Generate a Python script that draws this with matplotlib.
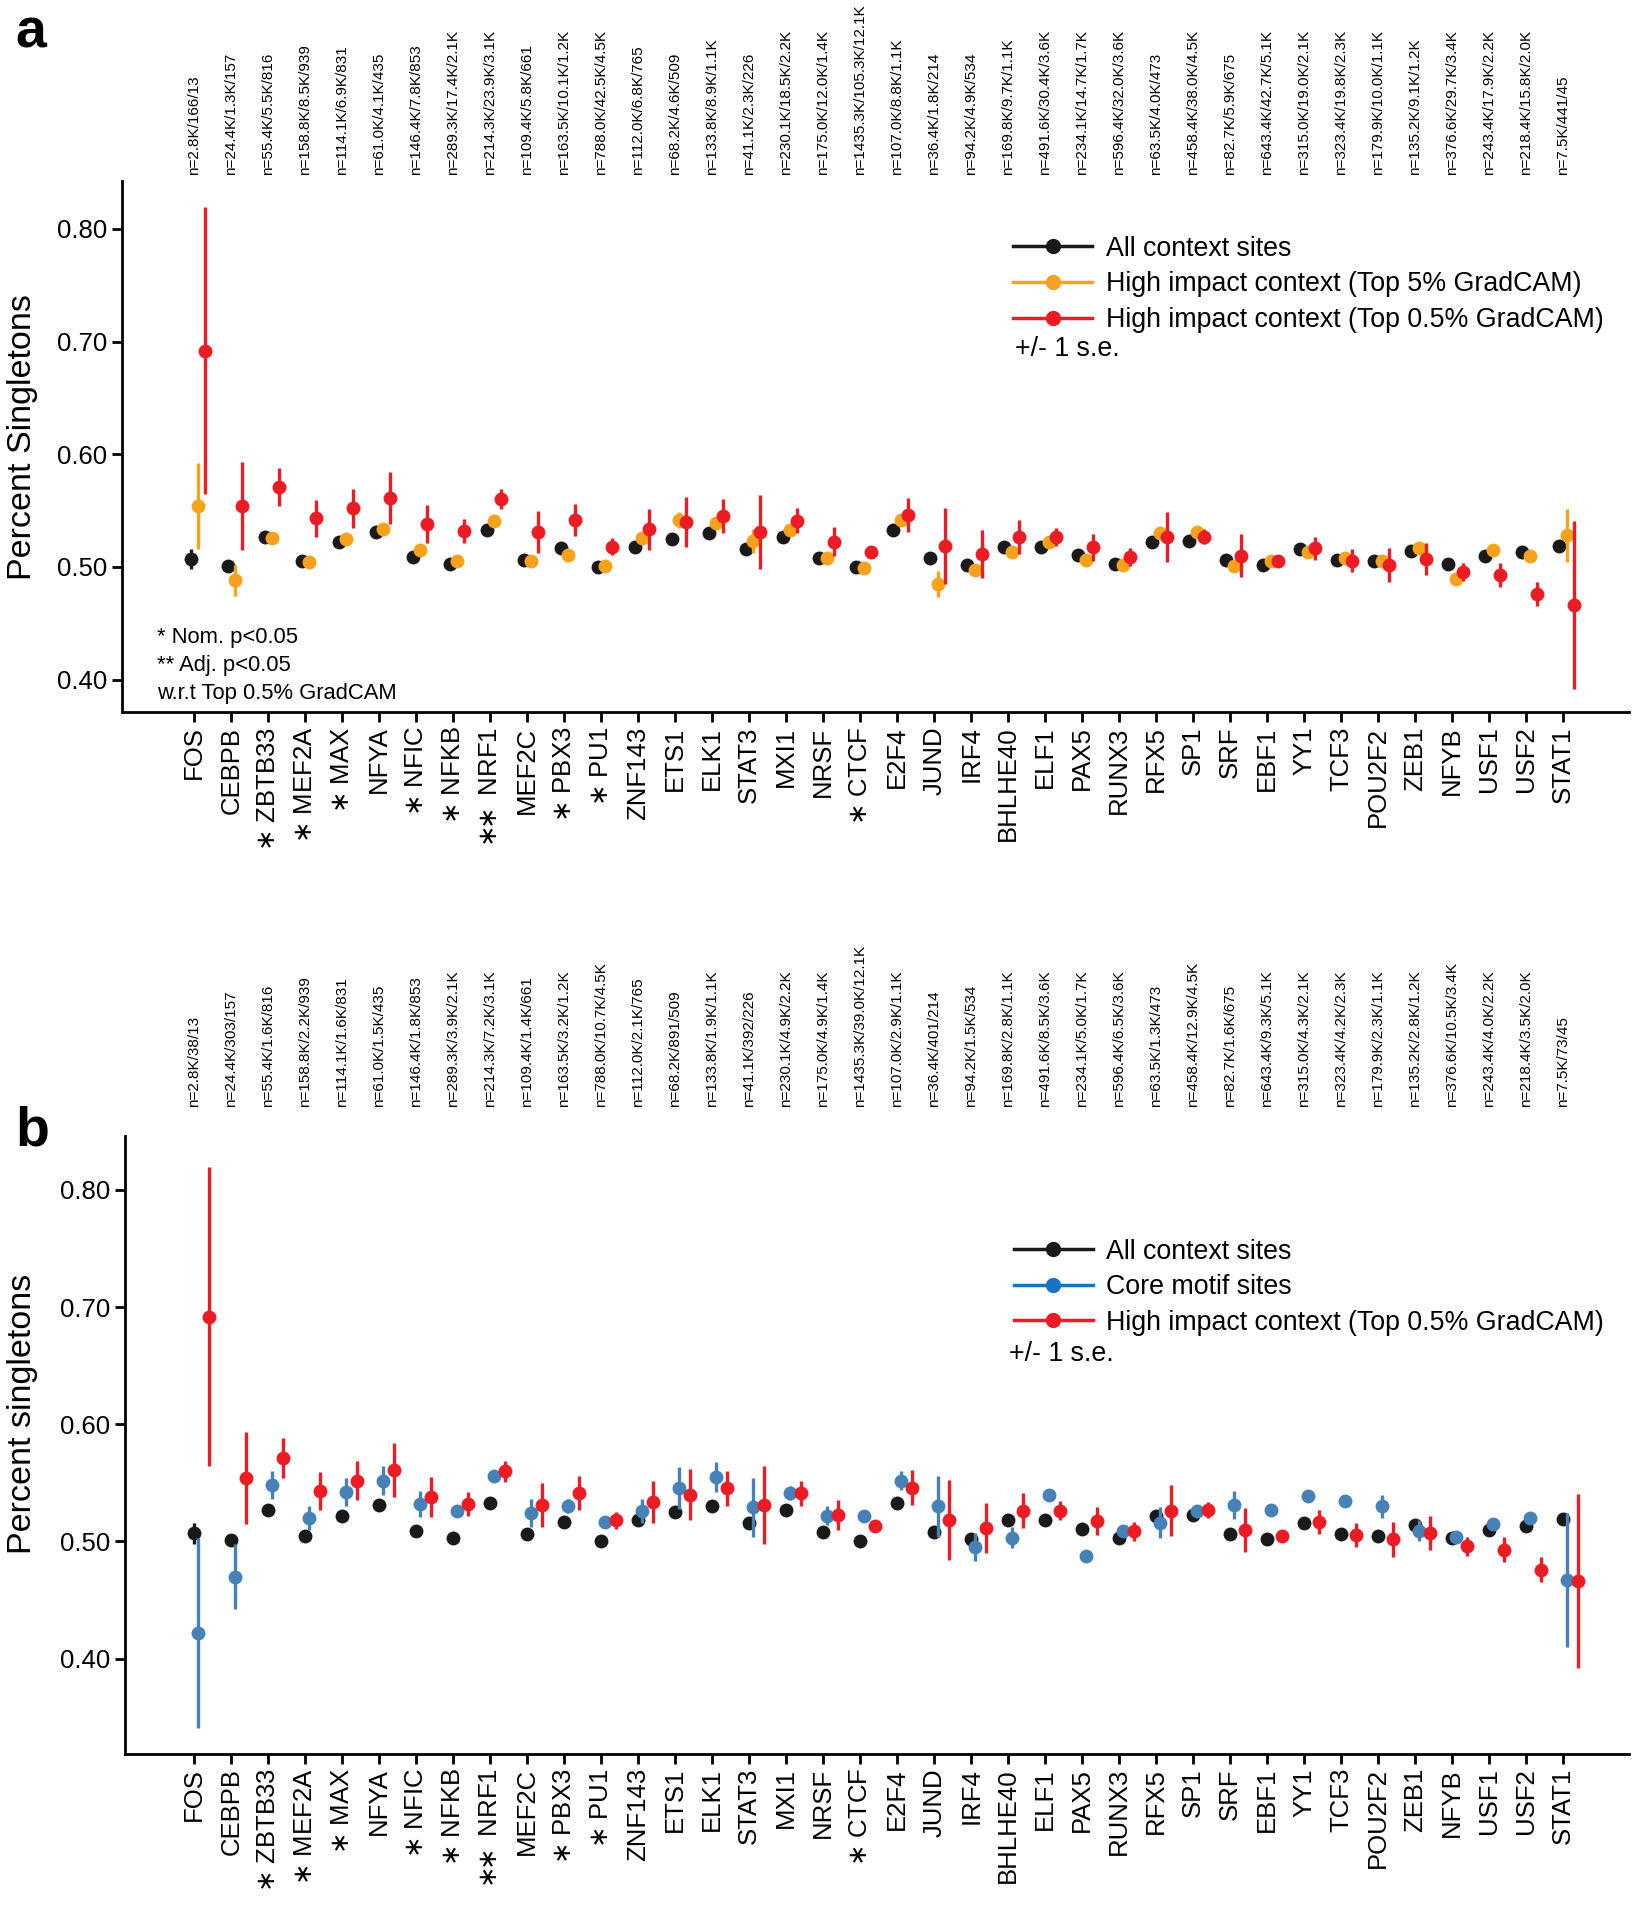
import matplotlib
matplotlib.use("Agg")
import matplotlib.pyplot as plt
from matplotlib.lines import Line2D
from matplotlib.transforms import blended_transform_factory
import numpy as np

plt.rcParams['font.family'] = ['Liberation Sans', 'DejaVu Sans']

factors = ["FOS", "CEBPB", "ZBTB33", "MEF2A", "MAX", "NFYA", "NFIC", "NFKB", "NRF1",
           "MEF2C", "PBX3", "PU1", "ZNF143", "ETS1", "ELK1", "STAT3", "MXI1", "NRSF",
           "CTCF", "E2F4", "JUND", "IRF4", "BHLHE40", "ELF1", "PAX5", "RUNX3", "RFX5",
           "SP1", "SRF", "EBF1", "YY1", "TCF3", "POU2F2", "ZEB1", "NFYB", "USF1", "USF2", "STAT1"]
stars = ["", "", "*", "*", "*", "", "*", "*", "**", "", "*", "*", "", "", "", "", "", "",
         "*", "", "", "", "", "", "", "", "", "", "", "", "", "", "", "", "", "", "", ""]

n_labels_a = ["2.8K/166/13", "24.4K/1.3K/157", "55.4K/5.5K/816", "158.8K/8.5K/939",
              "114.1K/6.9K/831", "61.0K/4.1K/435", "146.4K/7.8K/853", "289.3K/17.4K/2.1K",
              "214.3K/23.9K/3.1K", "109.4K/5.8K/661", "163.5K/10.1K/1.2K", "788.0K/42.5K/4.5K",
              "112.0K/6.8K/765", "68.2K/4.6K/509", "133.8K/8.9K/1.1K", "41.1K/2.3K/226",
              "230.1K/18.5K/2.2K", "175.0K/12.0K/1.4K", "1435.3K/105.3K/12.1K", "107.0K/8.8K/1.1K",
              "36.4K/1.8K/214", "94.2K/4.9K/534", "169.8K/9.7K/1.1K", "491.6K/30.4K/3.6K",
              "234.1K/14.7K/1.7K", "596.4K/32.0K/3.6K", "63.5K/4.0K/473", "458.4K/38.0K/4.5K",
              "82.7K/5.9K/675", "643.4K/42.7K/5.1K", "315.0K/19.0K/2.1K", "323.4K/19.8K/2.3K",
              "179.9K/10.0K/1.1K", "135.2K/9.1K/1.2K", "376.6K/29.7K/3.4K", "243.4K/17.9K/2.2K",
              "218.4K/15.8K/2.0K", "7.5K/441/45"]
n_labels_b = ["2.8K/38/13", "24.4K/303/157", "55.4K/1.6K/816", "158.8K/2.2K/939",
              "114.1K/1.6K/831", "61.0K/1.5K/435", "146.4K/1.8K/853", "289.3K/3.9K/2.1K",
              "214.3K/7.2K/3.1K", "109.4K/1.4K/661", "163.5K/3.2K/1.2K", "788.0K/10.7K/4.5K",
              "112.0K/2.1K/765", "68.2K/891/509", "133.8K/1.9K/1.1K", "41.1K/392/226",
              "230.1K/4.9K/2.2K", "175.0K/4.9K/1.4K", "1435.3K/39.0K/12.1K", "107.0K/2.9K/1.1K",
              "36.4K/401/214", "94.2K/1.5K/534", "169.8K/2.8K/1.1K", "491.6K/8.5K/3.6K",
              "234.1K/5.0K/1.7K", "596.4K/6.5K/3.6K", "63.5K/1.3K/473", "458.4K/12.9K/4.5K",
              "82.7K/1.6K/675", "643.4K/9.3K/5.1K", "315.0K/4.3K/2.1K", "323.4K/4.2K/2.3K",
              "179.9K/2.3K/1.1K", "135.2K/2.8K/1.2K", "376.6K/10.5K/3.4K", "243.4K/4.0K/2.2K",
              "218.4K/3.5K/2.0K", "7.5K/73/45"]

all_mean = [0.507, 0.501, 0.527, 0.505, 0.522, 0.531, 0.509, 0.503, 0.533, 0.506, 0.517, 0.500,
            0.518, 0.525, 0.530, 0.516, 0.527, 0.508, 0.500, 0.533, 0.508, 0.502, 0.518, 0.518,
            0.511, 0.503, 0.522, 0.523, 0.506, 0.502, 0.516, 0.506, 0.505, 0.514, 0.503, 0.510,
            0.513, 0.519]
all_se = [0.009, 0.003, 0.002, 0.002, 0.002, 0.002, 0.002, 0.002, 0.002, 0.002, 0.002, 0.001,
          0.002, 0.002, 0.002, 0.003, 0.002, 0.002, 0.001, 0.002, 0.003, 0.002, 0.002, 0.001,
          0.002, 0.001, 0.002, 0.001, 0.002, 0.001, 0.002, 0.002, 0.002, 0.002, 0.002, 0.002,
          0.002, 0.004]

top5_mean = [0.554, 0.488, 0.5255, 0.504, 0.525, 0.534, 0.515, 0.505, 0.541, 0.5055, 0.511, 0.501,
             0.5255, 0.542, 0.539, 0.523, 0.533, 0.508, 0.499, 0.542, 0.485, 0.497, 0.513, 0.5225,
             0.506, 0.502, 0.5305, 0.531, 0.501, 0.505, 0.5136, 0.508, 0.505, 0.517, 0.489, 0.515,
             0.510, 0.528]
top5_se = [0.038, 0.0135, 0.003, 0.003, 0.004, 0.005, 0.004, 0.003, 0.003, 0.004, 0.004, 0.002,
           0.005, 0.007, 0.004, 0.011, 0.003, 0.003, 0.001, 0.004, 0.0117, 0.005, 0.004, 0.002,
           0.003, 0.002, 0.005, 0.002, 0.004, 0.002, 0.003, 0.003, 0.003, 0.004, 0.003, 0.003,
           0.003, 0.0237]

top05_mean = [0.692, 0.554, 0.571, 0.543, 0.552, 0.561, 0.538, 0.532, 0.560, 0.531, 0.5417, 0.518,
              0.5334, 0.540, 0.5453, 0.531, 0.541, 0.5225, 0.5136, 0.546, 0.5186, 0.5113, 0.5264,
              0.5264, 0.5175, 0.5086, 0.5264, 0.527, 0.5098, 0.505, 0.5166, 0.5056, 0.5018, 0.507,
              0.4959, 0.4929, 0.476, 0.4663]
top05_se = [0.1275, 0.039, 0.017, 0.016, 0.017, 0.023, 0.017, 0.0104, 0.009, 0.019, 0.0145, 0.0074,
            0.018, 0.022, 0.015, 0.033, 0.011, 0.013, 0.003, 0.015, 0.034, 0.0215, 0.015, 0.008,
            0.012, 0.008, 0.022, 0.007, 0.019, 0.004, 0.0104, 0.010, 0.015, 0.0145, 0.008, 0.0107,
            0.011, 0.0745]

core_mean = [0.422, 0.470, 0.548, 0.520, 0.542, 0.552, 0.532, 0.526, 0.556, 0.524, 0.530, 0.517,
             0.526, 0.5455, 0.555, 0.529, 0.541, 0.522, 0.522, 0.552, 0.530, 0.495, 0.503, 0.540,
             0.488, 0.509, 0.516, 0.526, 0.531, 0.527, 0.539, 0.5345, 0.530, 0.509, 0.504, 0.515,
             0.520, 0.467]
core_se = [0.081, 0.028, 0.012, 0.010, 0.012, 0.012, 0.011, 0.005, 0.004, 0.012, 0.006, 0.003,
           0.010, 0.018, 0.013, 0.025, 0.006, 0.008, 0.003, 0.008, 0.026, 0.012, 0.009, 0.004,
           0.004, 0.004, 0.013, 0.003, 0.012, 0.003, 0.005, 0.005, 0.010, 0.009, 0.003, 0.005,
           0.005, 0.057]

C_BLACK = "#1a1a1a"
C_ORANGE = "#F7A21C"
C_RED = "#EC1C24"
C_BLUE = "#4682B8"
C_BLUE_LEG = "#1874C0"

FS_TICK = 18.5
FS_LEG = 19.3
MS = 10
ELW = 2.4

x = np.arange(len(factors))
xt_labels = [("$" + r"\!\!".join([r"\ast"] * len(s)) + "$ " + f) if s else f
             for s, f in zip(stars, factors)]

fig = plt.figure(figsize=(16.47, 19.2), dpi=100)
ax_a = fig.add_axes([0.0741, 0.6292, 0.9149, 0.2765])
ax_b = fig.add_axes([0.0759, 0.0867, 0.9131, 0.3216])


def style(ax, ylim, xlim):
    ax.set_xlim(*xlim)
    ax.set_ylim(*ylim)
    for s in ["top", "right"]:
        ax.spines[s].set_visible(False)
    for s in ["left", "bottom"]:
        ax.spines[s].set_linewidth(2)
    ax.set_yticks([0.4, 0.5, 0.6, 0.7, 0.8])
    ax.set_yticklabels(["%.2f" % v for v in [0.4, 0.5, 0.6, 0.7, 0.8]], fontsize=FS_TICK)
    ax.set_xticks(x)
    ax.set_xticklabels(xt_labels, rotation=90, fontsize=FS_TICK)
    ax.tick_params(axis="both", width=2, length=7, color="black")


def series(ax, xs, m, se, color, z):
    ax.errorbar(xs, m, yerr=se, fmt="o", color=color, ms=MS, elinewidth=ELW,
                capsize=0, mew=0, zorder=z)


# Panel a
series(ax_a, x - 0.1, all_mean, all_se, C_BLACK, 3)
series(ax_a, x + 0.1, top5_mean, top5_se, C_ORANGE, 4)
series(ax_a, x + 0.3, top05_mean, top05_se, C_RED, 5)
style(ax_a, (0.3713, 0.8425), (-1.954, 38.78))
ax_a.set_ylabel("Percent Singletons", fontsize=24.5)
ax_a.yaxis.set_label_coords(-0.056, 0.518)

tr = blended_transform_factory(ax_a.transData, ax_a.transAxes)
for xi, lab in zip(x, n_labels_a):
    ax_a.text(xi, 1.012, "n=" + lab, rotation=90, ha="center", va="bottom",
              fontsize=11, transform=tr)

h_a = [Line2D([], [], color=C_BLACK, marker="o", lw=2.5, ms=MS),
       Line2D([], [], color=C_ORANGE, marker="o", lw=2.5, ms=MS),
       Line2D([], [], color=C_RED, marker="o", lw=2.5, ms=MS)]
ax_a.legend(h_a, ["All context sites", "High impact context (Top 5% GradCAM)",
                  "High impact context (Top 0.5% GradCAM)"],
            loc="upper left", bbox_to_anchor=(0.5915, 0.897), frameon=False,
            fontsize=FS_LEG, handlelength=2.95, handletextpad=0.5, labelspacing=0.36,
            borderpad=0, borderaxespad=0)
ax_a.text(0.5926, 0.683, "+/- 1 s.e.", transform=ax_a.transAxes, fontsize=FS_LEG,
          ha="left", va="center")
ax_a.text(0.0232, 0.160, "* Nom. p<0.05\n** Adj. p<0.05\nw.r.t Top 0.5% GradCAM",
          transform=ax_a.transAxes, fontsize=15.8, ha="left", va="top", linespacing=1.45)

# Panel b
series(ax_b, x, all_mean, all_se, C_BLACK, 3)
series(ax_b, x + 0.1, core_mean, core_se, C_BLUE, 4)
series(ax_b, x + 0.4, top05_mean, top05_se, C_RED, 5)
style(ax_b, (0.319, 0.846), (-1.873, 38.78))
ax_b.set_ylabel("Percent singletons", fontsize=24.5)
ax_b.yaxis.set_label_coords(-0.058, 0.55)

tr_b = blended_transform_factory(ax_b.transData, ax_b.transAxes)
for xi, lab in zip(x, n_labels_b):
    ax_b.text(xi, 1.047, "n=" + lab, rotation=90, ha="center", va="bottom",
              fontsize=11, transform=tr_b)

h_b = [Line2D([], [], color=C_BLACK, marker="o", lw=2.5, ms=MS),
       Line2D([], [], color=C_BLUE_LEG, marker="o", lw=2.5, ms=MS),
       Line2D([], [], color=C_RED, marker="o", lw=2.5, ms=MS)]
ax_b.legend(h_b, ["All context sites", "Core motif sites",
                  "High impact context (Top 0.5% GradCAM)"],
            loc="upper left", bbox_to_anchor=(0.591, 0.834), frameon=False,
            fontsize=FS_LEG, handlelength=2.95, handletextpad=0.5, labelspacing=0.36,
            borderpad=0, borderaxespad=0)
ax_b.text(0.588, 0.647, "+/- 1 s.e.", transform=ax_b.transAxes, fontsize=FS_LEG,
          ha="left", va="center")

fig.text(15 / 1647, 1 - 8 / 1920, "a", fontsize=40, fontweight="bold", ha="left", va="top")
fig.text(15 / 1647, 1 - 1106 / 1920, "b", fontsize=40, fontweight="bold", ha="left", va="top")

fig.savefig("out.png", dpi=100)
